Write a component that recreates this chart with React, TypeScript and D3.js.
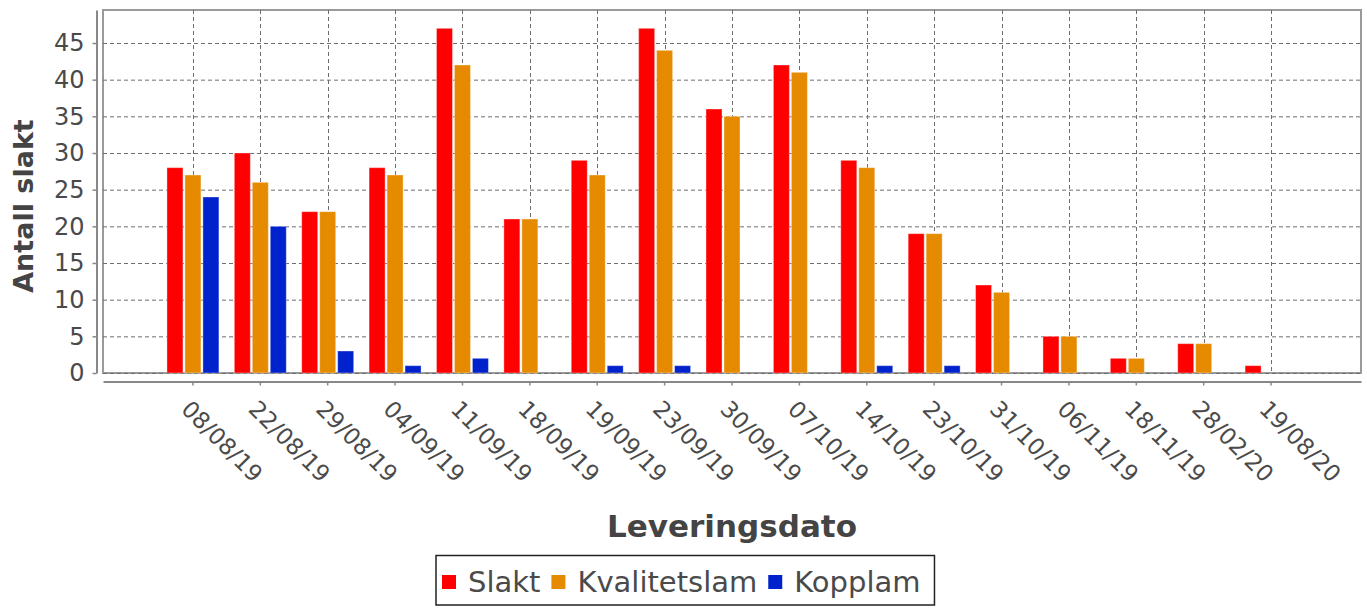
import { useRef, useEffect } from 'react';
import * as d3 from 'd3';

const categories = [
  '08/08/19', '22/08/19', '29/08/19', '04/09/19', '11/09/19', '18/09/19',
  '19/09/19', '23/09/19', '30/09/19', '07/10/19', '14/10/19', '23/10/19',
  '31/10/19', '06/11/19', '18/11/19', '28/02/20', '19/08/20',
];
const slakt = [28, 30, 22, 28, 47, 21, 29, 47, 36, 42, 29, 19, 12, 5, 2, 4, 1];
const kvalitetslam = [27, 26, 22, 27, 42, 21, 27, 44, 35, 41, 28, 19, 11, 5, 2, 4, 0];
const kopplam = [24, 20, 3, 1, 2, 0, 1, 1, 0, 0, 1, 1, 0, 0, 0, 0, 0];
const seriesNames = ['Slakt', 'Kvalitetslam', 'Kopplam'];
const seriesColors = ['#ff0000', '#e68a00', '#0022cc'];
const yTicks = [0, 5, 10, 15, 20, 25, 30, 35, 40, 45];
const yMax = 49.5;

const W = 1367;
const H = 608;
const FONT = '"DejaVu Sans", sans-serif';

export default function App() {
  const svgRef = useRef<SVGSVGElement>(null);

  useEffect(() => {
    if (!svgRef.current) return;
    const svg = d3.select(svgRef.current);
    svg.selectAll('*').remove();

    const plot = { left: 103, right: 1361, top: 10, bottom: 373 };

    const x = d3.scaleBand<string>()
      .domain(categories)
      .range([plot.left, plot.right])
      .paddingInner(0.229)
      .paddingOuter(0.949);

    const xs = d3.scaleBand<string>()
      .domain(seriesNames)
      .range([0, x.bandwidth()])
      .paddingInner(0.11);

    const y = d3.scaleLinear().domain([0, yMax]).range([plot.bottom, plot.top]);

    svg.append('rect')
      .attr('width', W).attr('height', H).attr('fill', '#fff');

    // plot outline
    svg.append('rect')
      .attr('x', plot.left).attr('y', plot.top)
      .attr('width', plot.right - plot.left).attr('height', plot.bottom - plot.top)
      .attr('fill', '#fff').attr('stroke', '#9a9a9a').attr('stroke-width', 2);

    // gridlines
    const grid = svg.append('g')
      .attr('stroke', '#6e6e6e').attr('stroke-width', 1).attr('stroke-dasharray', '4,3');
    yTicks.forEach(t => {
      grid.append('line')
        .attr('x1', plot.left).attr('x2', plot.right)
        .attr('y1', y(t) + 0.5).attr('y2', y(t) + 0.5);
    });
    categories.forEach(c => {
      const cx = Math.round(x(c)! + x.bandwidth() / 2) + 0.5;
      grid.append('line')
        .attr('x1', cx).attr('x2', cx)
        .attr('y1', plot.top).attr('y2', plot.bottom);
    });

    // bars
    const series = [slakt, kvalitetslam, kopplam];
    series.forEach((values, si) => {
      svg.append('g')
        .selectAll('rect')
        .data(values.map((v, i) => ({ v, c: categories[i] })).filter(d => d.v > 0))
        .join('rect')
        .attr('x', d => x(d.c)! + xs(seriesNames[si])!)
        .attr('y', d => y(d.v))
        .attr('width', xs.bandwidth())
        .attr('height', d => plot.bottom - y(d.v))
        .attr('fill', seriesColors[si])
        .attr('stroke', 'rgba(255,255,255,0.35)')
        .attr('stroke-width', 1);
    });

    // y axis
    const yAxis = svg.append('g')
      .attr('transform', 'translate(96.5,0)')
      .call(d3.axisLeft(y).tickValues(yTicks).tickSize(4).tickSizeOuter(0).tickPadding(8));
    yAxis.select('.domain').attr('stroke', '#888').attr('stroke-width', 2);
    yAxis.selectAll('.tick line').attr('stroke', '#888').attr('stroke-width', 1.5);
    yAxis.selectAll('.tick text')
      .attr('fill', '#4a4a4a').style('font-family', FONT).style('font-size', '24px');

    // x axis
    const xAxis = svg.append('g')
      .attr('transform', 'translate(0,381.5)')
      .call(d3.axisBottom(x).tickSize(4).tickSizeOuter(0));
    xAxis.select('.domain').attr('stroke', '#888').attr('stroke-width', 2);
    xAxis.selectAll('.tick line').attr('stroke', '#888').attr('stroke-width', 1.5);
    xAxis.selectAll('.tick text')
      .attr('fill', '#4a4a4a')
      .attr('x', 0).attr('y', 0).attr('dy', 0)
      .attr('text-anchor', 'start')
      .attr('transform', 'translate(-13,29) rotate(45)')
      .style('font-family', FONT).style('font-size', '23px');

    // axis titles
    svg.append('text')
      .attr('transform', 'translate(33,206) rotate(-90)')
      .attr('text-anchor', 'middle')
      .attr('fill', '#444')
      .style('font-family', FONT).style('font-size', '27px').style('font-weight', 'bold')
      .text('Antall slakt');

    svg.append('text')
      .attr('x', (plot.left + plot.right) / 2).attr('y', 537)
      .attr('text-anchor', 'middle')
      .attr('fill', '#444')
      .style('font-family', FONT).style('font-size', '31px').style('font-weight', 'bold')
      .text('Leveringsdato');

    // legend
    const legend = svg.append('g');
    const box = legend.append('rect')
      .attr('fill', '#fff').attr('stroke', '#222').attr('stroke-width', 1.5);
    let cursor = 0;
    const padL = 6, padR = 14, sq = 14, gapText = 12, gapItem = 11;
    seriesNames.forEach((name, i) => {
      legend.append('rect')
        .attr('x', cursor + padL).attr('y', 575)
        .attr('width', sq).attr('height', sq)
        .attr('fill', seriesColors[i]);
      const t = legend.append('text')
        .attr('x', cursor + padL + sq + gapText).attr('y', 592)
        .attr('fill', '#4a4a4a')
        .style('font-family', FONT).style('font-size', '29px')
        .text(name);
      const tw = (t.node() as SVGTextElement).getComputedTextLength();
      cursor += sq + gapText + tw + gapItem;
    });
    const boxW = padL + cursor - gapItem + padR;
    box.attr('x', 0).attr('y', 555.5).attr('width', boxW).attr('height', 49.5);
    legend.attr('transform', `translate(${Math.round(685 - boxW / 2)},0)`);
  }, []);

  return (
    <svg
      ref={svgRef}
      width={W}
      height={H}
      style={{ position: 'absolute', left: 0, top: 0 }}
    />
  );
}
